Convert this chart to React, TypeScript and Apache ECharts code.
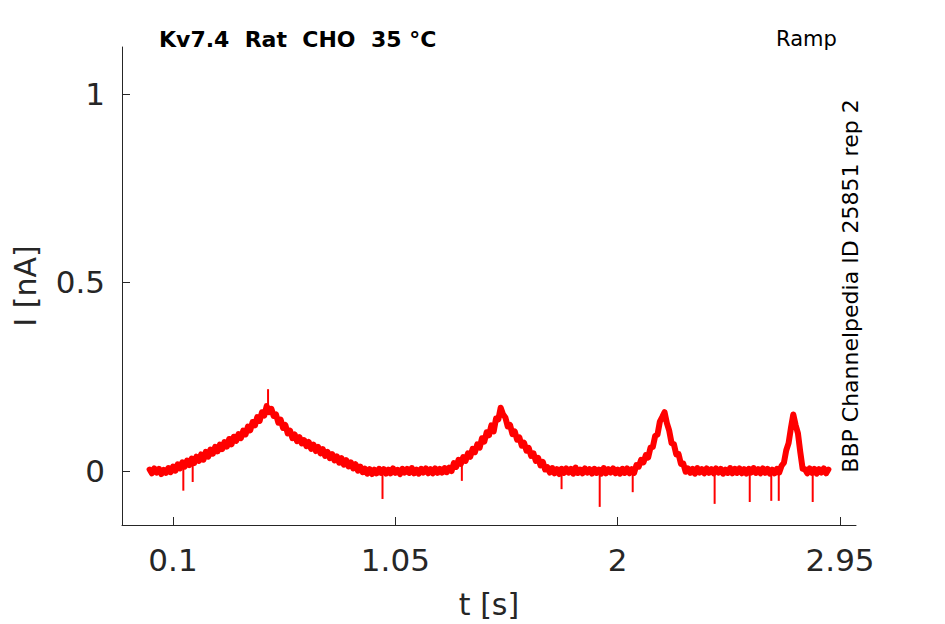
import React, { useEffect, useRef } from "react";
import * as echarts from "echarts";

// Sampled current trace (nA), one value every SAMPLE_STEP seconds from SAMPLE_START
const SAMPLE_START = 0;
const SAMPLE_STEP = 0.01;
const current: number[] = [
  // 0.00 - 0.09
  0.004, -0.006, 0.007, -0.004, 0.006, -0.008, 0.003, -0.005, 0.008, -0.003,
  // 0.10 - 0.19
  0.012, 0.001, 0.018, 0.007, 0.023, 0.012, 0.028, 0.016, 0.033, 0.021,
  // 0.20 - 0.29
  0.038, 0.027, 0.044, 0.030, 0.051, 0.038, 0.057, 0.046, 0.064, 0.052,
  // 0.30 - 0.39
  0.070, 0.058, 0.077, 0.065, 0.085, 0.071, 0.091, 0.080, 0.098, 0.087,
  // 0.40 - 0.49
  0.107, 0.097, 0.118, 0.108, 0.130, 0.121, 0.143, 0.133, 0.156, 0.147,
  // 0.50 - 0.59
  0.172, 0.156, 0.165, 0.146, 0.150, 0.128, 0.136, 0.114, 0.122, 0.100,
  // 0.60 - 0.69
  0.107, 0.087, 0.097, 0.079, 0.090, 0.073, 0.082, 0.066, 0.077, 0.059,
  // 0.70 - 0.79
  0.070, 0.053, 0.064, 0.047, 0.058, 0.040, 0.051, 0.034, 0.045, 0.028,
  // 0.80 - 0.89
  0.039, 0.022, 0.034, 0.017, 0.029, 0.012, 0.023, 0.007, 0.018, 0.001,
  // 0.90 - 0.99
  0.012, -0.003, 0.006, -0.007, 0.005, -0.008, 0.004, -0.006, 0.006, -0.005,
  // 1.00 - 1.09
  0.005, -0.007, 0.004, -0.006, 0.007, -0.005, 0.003, -0.008, 0.006, -0.004,
  // 1.10 - 1.19
  0.006, -0.005, 0.008, -0.006, 0.004, -0.007, 0.006, -0.004, 0.007, -0.006,
  // 1.20 - 1.29
  0.005, -0.006, 0.007, -0.005, 0.006, -0.004, 0.008, -0.003, 0.009, 0.000,
  // 1.30 - 1.39
  0.021, 0.011, 0.030, 0.019, 0.037, 0.027, 0.047, 0.038, 0.059, 0.050,
  // 1.40 - 1.49
  0.071, 0.062, 0.087, 0.078, 0.103, 0.095, 0.121, 0.105, 0.139, 0.137,
  // 1.50 - 1.59
  0.168, 0.150, 0.142, 0.118, 0.122, 0.098, 0.105, 0.083, 0.089, 0.067,
  // 1.60 - 1.69
  0.075, 0.054, 0.061, 0.040, 0.047, 0.027, 0.035, 0.015, 0.024, 0.004,
  // 1.70 - 1.79
  0.010, -0.004, 0.008, -0.006, 0.005, -0.008, 0.006, -0.005, 0.007, -0.004,
  // 1.80 - 1.89
  0.006, -0.007, 0.009, -0.005, 0.004, -0.006, 0.007, -0.004, 0.005, -0.007,
  // 1.90 - 1.99
  0.006, -0.005, 0.004, -0.007, 0.008, -0.006, 0.005, -0.004, 0.007, -0.006,
  // 2.00 - 2.09
  0.004, -0.007, 0.006, -0.005, 0.007, -0.006, 0.005, -0.005, 0.016, 0.012,
  // 2.10 - 2.19
  0.030, 0.023, 0.042, 0.036, 0.062, 0.064, 0.093, 0.097, 0.131, 0.143,
  // 2.20 - 2.29
  0.156, 0.127, 0.107, 0.074, 0.071, 0.044, 0.045, 0.019, 0.020, -0.002,
  // 2.30 - 2.39
  0.007, -0.005, 0.006, -0.007, 0.008, -0.004, 0.005, -0.006, 0.007, -0.005,
  // 2.40 - 2.49
  0.005, -0.006, 0.007, -0.004, 0.006, -0.007, 0.004, -0.005, 0.008, -0.006,
  // 2.50 - 2.59
  0.006, -0.005, 0.007, -0.006, 0.005, -0.007, 0.006, -0.004, 0.008, -0.005,
  // 2.60 - 2.69
  0.005, -0.006, 0.007, -0.005, 0.006, -0.007, 0.004, -0.006, 0.006, -0.004,
  // 2.70 - 2.79
  0.014, 0.022, 0.055, 0.074, 0.114, 0.150, 0.122, 0.100, 0.050, 0.006,
  // 2.80 - 2.89
  0.005, -0.006, 0.007, -0.005, 0.006, -0.007, 0.005, -0.004, 0.007, -0.006,
  // 2.90
  0.004,
];

// Brief single-sample transients (time s, level before, peak level)
const spikeTimes: number[] = [0.144, 0.184, 0.506, 0.995, 1.334, 1.76, 1.923, 2.064, 2.414, 2.564, 2.656, 2.688, 2.833];
const spikeBase: number[] = [0.016, 0.027, 0.165, 0.0, 0.02, 0.0, 0.0, 0.0, 0.0, 0.0, 0.0, 0.0, 0.0];
const spikePeak: number[] = [-0.052, -0.029, 0.217, -0.074, -0.026, -0.048, -0.095, -0.056, -0.087, -0.082, -0.079, -0.079, -0.082];

const xTicks: number[] = [0.1, 1.05, 2, 2.95];
const yTicks: number[] = [0, 0.5, 1];

const TITLE = "Kv7.4  Rat  CHO  35 °C";
const PROTOCOL = "Ramp";
const SOURCE = "BBP Channelpedia ID 25851 rep 2";

const FONT = "'DejaVu Sans', sans-serif";
const INK = "#262626";
const RED = "#ff0000";

export default function App() {
  const ref = useRef<HTMLDivElement>(null);

  useEffect(() => {
    if (!ref.current) return;
    const chart = echarts.init(ref.current, undefined, { renderer: "svg" });

    const trace: [number, number][] = current.map((v, i) => [SAMPLE_START + i * SAMPLE_STEP, v]);

    const spikeSeries = spikeTimes.map((t, k) => ({
      type: "line",
      data: [
        [t, spikeBase[k]],
        [t, spikePeak[k]],
      ],
      showSymbol: false,
      symbol: "none",
      lineStyle: { color: RED, width: 2 },
      emphasis: { disabled: true },
      silent: true,
    }));

    chart.setOption({
      animation: false,
      backgroundColor: "#ffffff",
      grid: { left: 122, right: 89, top: 47, bottom: 98, containLabel: false },
      xAxis: {
        type: "value",
        min: -0.118,
        max: 3.018,
        name: "t [s]",
        nameLocation: "middle",
        nameGap: 64,
        nameTextStyle: { fontFamily: FONT, fontSize: 30, color: INK },
        axisLine: { show: true, onZero: false, lineStyle: { color: INK, width: 1 } },
        axisTick: { show: true, inside: true, length: 8, customValues: xTicks, lineStyle: { color: INK } },
        axisLabel: {
          show: true,
          customValues: xTicks,
          formatter: (v: number) => String(v),
          fontFamily: FONT,
          fontSize: 31,
          color: INK,
          margin: 19,
        },
        splitLine: { show: false },
      },
      yAxis: {
        type: "value",
        min: -0.143,
        max: 1.124,
        name: "I [nA]",
        nameLocation: "middle",
        nameGap: 82,
        nameTextStyle: { fontFamily: FONT, fontSize: 30, color: INK },
        axisLine: { show: true, onZero: false, lineStyle: { color: INK, width: 1 } },
        axisTick: { show: true, inside: true, length: 8, customValues: yTicks, lineStyle: { color: INK } },
        axisLabel: {
          show: true,
          customValues: yTicks,
          formatter: (v: number) => String(v),
          fontFamily: FONT,
          fontSize: 31,
          color: INK,
          margin: 17,
        },
        splitLine: { show: false },
      },
      graphic: [
        {
          type: "text",
          left: 159,
          top: 28,
          style: { text: TITLE, font: `bold 22px ${FONT}`, fill: "#000000" },
        },
        {
          type: "text",
          left: 776,
          top: 28,
          style: { text: PROTOCOL, font: `21px ${FONT}`, fill: "#000000" },
        },
        {
          type: "text",
          x: 850,
          y: 286,
          rotation: Math.PI / 2,
          style: {
            text: SOURCE,
            font: `22px ${FONT}`,
            fill: "#000000",
            align: "center",
            verticalAlign: "middle",
          },
        },
      ],
      series: [
        {
          type: "line",
          data: trace,
          showSymbol: false,
          symbol: "none",
          lineStyle: { color: RED, width: 6, join: "round", cap: "round" },
          itemStyle: { color: RED },
          emphasis: { disabled: true },
          silent: true,
          clip: true,
        },
        ...spikeSeries,
      ],
    });

    return () => chart.dispose();
  }, []);

  return (
    <div
      ref={ref}
      style={{ position: "absolute", left: 0, top: 0, width: 945, height: 624, background: "#fff" }}
    />
  );
}
